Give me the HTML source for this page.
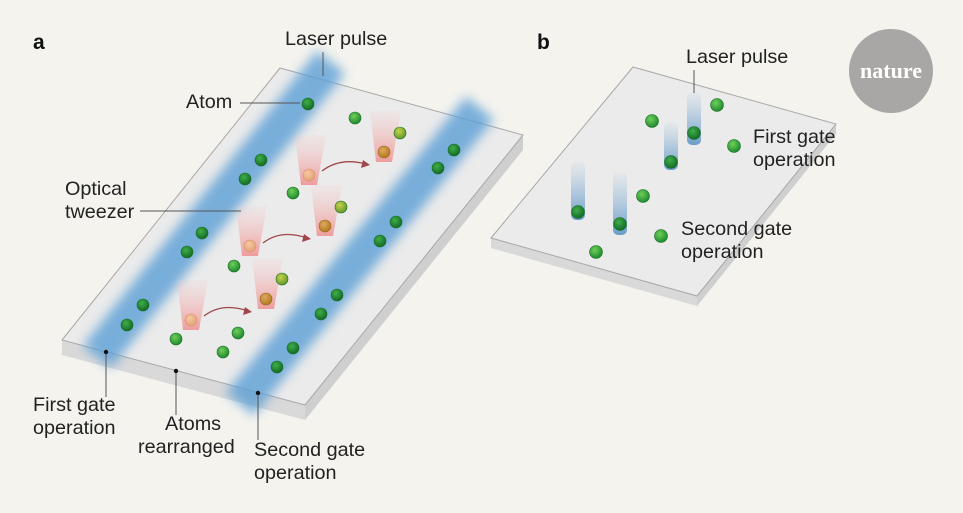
<!DOCTYPE html>
<html><head><meta charset="utf-8"><style>
html,body{margin:0;padding:0;background:#f4f3ee;}
svg{display:block}
text{font-family:"Liberation Sans",sans-serif;font-size:19.8px;fill:#222;}
</style></head><body>
<svg width="963" height="513" viewBox="0 0 963 513" xmlns="http://www.w3.org/2000/svg">
<defs>
<filter id="bl" x="-20%" y="-20%" width="140%" height="140%"><feGaussianBlur stdDeviation="5.5"/></filter>
<radialGradient id="g" cx="40%" cy="35%" r="65%"><stop offset="0" stop-color="#6fcf5a"/><stop offset="1" stop-color="#1f8a2e"/></radialGradient>
<radialGradient id="dg" cx="40%" cy="35%" r="65%"><stop offset="0" stop-color="#3fae4a"/><stop offset="1" stop-color="#146b25"/></radialGradient>
<radialGradient id="y" cx="40%" cy="35%" r="65%"><stop offset="0" stop-color="#c9d24a"/><stop offset="1" stop-color="#5f9a2a"/></radialGradient>
<radialGradient id="o" cx="40%" cy="35%" r="65%"><stop offset="0" stop-color="#e0a860"/><stop offset="1" stop-color="#b07a20"/></radialGradient>
<radialGradient id="po" cx="40%" cy="35%" r="65%"><stop offset="0" stop-color="#f6c8a0"/><stop offset="1" stop-color="#e3a27a"/></radialGradient>
<linearGradient id="cone" x1="0" y1="0" x2="0" y2="1"><stop offset="0" stop-color="#f6c9c9" stop-opacity="0.15"/><stop offset="1" stop-color="#ef8f8f" stop-opacity="0.85"/></linearGradient>
<linearGradient id="pil" x1="0" y1="0" x2="0" y2="1"><stop offset="0" stop-color="#8db6d8" stop-opacity="0.05"/><stop offset="1" stop-color="#5d95c6" stop-opacity="0.9"/></linearGradient>
</defs>
<polygon points="62,340 305,405 305,420 62,355" fill="#d9d9d9"/>
<polygon points="305,405 523,135 523,150 305,420" fill="#cfcfcf"/>
<polygon points="280,68 523,135 305,405 62,340" fill="#ebebeb" stroke="#a8a8a8" stroke-width="1"/>
<g filter="url(#bl)" opacity="0.8">
<line x1="331" y1="62" x2="97" y2="357" stroke="#5c9fd6" stroke-width="36"/>
<line x1="480" y1="108" x2="240" y2="404" stroke="#5c9fd6" stroke-width="36"/>
</g>
<polygon points="491,238 697,296 697,306 491,248" fill="#d9d9d9"/>
<polygon points="697,296 836,124 836,134 697,306" fill="#cfcfcf"/>
<polygon points="633,67 836,124 697,296 491,238" fill="#ebebeb" stroke="#a8a8a8" stroke-width="1"/>
<g fill="url(#cone)">
<polygon points="177,280 208,280 199,330 183,330"/>
<polygon points="236,206 267,206 258,256 242,256"/>
<polygon points="295,135 326,135 317,185 301,185"/>
<polygon points="252,258 283,258 274,309 258,309"/>
<polygon points="311,185 342,185 333,236 317,236"/>
<polygon points="370,111 401,111 392,162 376,162"/>
</g>
<g fill="none" stroke="#a0474a" stroke-width="1.3">
<path d="M204,316 Q222,302 248,311"/><path d="M263,243 Q281,229 307,238"/><path d="M322,171 Q340,157 366,164"/>
</g>
<g fill="#a0474a">
<polygon points="252,312 243,315 245,307"/><polygon points="311,239 302,242 304,234"/><polygon points="370,165 361,168 363,160"/>
</g>
<g stroke="#1b6e2a" stroke-width="0.6">
<g fill="url(#dg)">
<circle cx="308" cy="104" r="6"/><circle cx="261" cy="160" r="6"/><circle cx="245" cy="179" r="6"/><circle cx="202" cy="233" r="6"/><circle cx="187" cy="252" r="6"/><circle cx="143" cy="305" r="6"/><circle cx="127" cy="325" r="6"/>
<circle cx="454" cy="150" r="6"/><circle cx="438" cy="168" r="6"/><circle cx="396" cy="222" r="6"/><circle cx="380" cy="241" r="6"/><circle cx="337" cy="295" r="6"/><circle cx="321" cy="314" r="6"/><circle cx="293" cy="348" r="6"/><circle cx="277" cy="367" r="6"/>
</g>
<g fill="url(#g)">
<circle cx="355" cy="118" r="6"/><circle cx="293" cy="193" r="6"/><circle cx="234" cy="266" r="6"/><circle cx="176" cy="339" r="6"/><circle cx="238" cy="333" r="6"/><circle cx="223" cy="352" r="6"/>
</g>
<g fill="url(#y)"><circle cx="400" cy="133" r="6"/><circle cx="341" cy="207" r="6"/><circle cx="282" cy="279" r="6"/></g>
<g fill="url(#po)" stroke="#d9906a"><circle cx="191" cy="320" r="6"/><circle cx="250" cy="246" r="6"/><circle cx="309" cy="175" r="6"/></g>
<g fill="url(#o)" stroke="#9a6a1a"><circle cx="266" cy="299" r="6"/><circle cx="325" cy="226" r="6"/><circle cx="384" cy="152" r="6"/></g>
</g>
<g fill="url(#pil)">
<rect x="687" y="92" width="14" height="53" rx="5"/><rect x="664" y="122" width="14" height="48" rx="5"/><rect x="571" y="162" width="14" height="58" rx="5"/><rect x="613" y="172" width="14" height="63" rx="5"/>
</g>
<g stroke="#1b6e2a" stroke-width="0.6">
<g fill="url(#dg)"><circle cx="694" cy="133" r="6.5"/><circle cx="671" cy="162" r="6.5"/><circle cx="578" cy="212" r="6.5"/><circle cx="620" cy="224" r="6.5"/></g>
<g fill="url(#g)"><circle cx="717" cy="105" r="6.5"/><circle cx="652" cy="121" r="6.5"/><circle cx="734" cy="146" r="6.5"/><circle cx="643" cy="196" r="6.5"/><circle cx="661" cy="236" r="6.5"/><circle cx="596" cy="252" r="6.5"/></g>
</g>
<g stroke="#555" stroke-width="1">
<line x1="323" y1="52" x2="323" y2="76"/><line x1="240" y1="103" x2="300" y2="103"/><line x1="140" y1="211" x2="241" y2="211"/>
<line x1="106" y1="352" x2="106" y2="397"/><line x1="176" y1="371" x2="176" y2="415"/><line x1="258" y1="393" x2="258" y2="440"/>
<line x1="694" y1="70" x2="694" y2="93"/>
</g>
<g fill="#111"><circle cx="106" cy="352" r="2.2"/><circle cx="176" cy="371" r="2.2"/><circle cx="258" cy="393" r="2.2"/></g>
<text x="33" y="49" style="font-weight:bold;font-size:21px;fill:#111">a</text>
<text x="537" y="49" style="font-weight:bold;font-size:21px;fill:#111">b</text>
<text x="285" y="45">Laser pulse</text>
<text x="186" y="108">Atom</text>
<text x="65" y="195">Optical</text><text x="65" y="218">tweezer</text>
<text x="33" y="411">First gate</text><text x="33" y="434">operation</text>
<text x="165" y="430">Atoms</text><text x="138" y="453">rearranged</text>
<text x="254" y="456">Second gate</text><text x="254" y="479">operation</text>
<text x="686" y="63">Laser pulse</text>
<text x="753" y="143">First gate</text><text x="753" y="166">operation</text>
<text x="681" y="235">Second gate</text><text x="681" y="258">operation</text>
<circle cx="891" cy="71" r="42" fill="#a9a7a5"/>
<text x="891" y="78" text-anchor="middle" style="font-family:'Liberation Serif',serif;font-size:22px;font-weight:bold;fill:#fff">nature</text>
</svg>
</body></html>
